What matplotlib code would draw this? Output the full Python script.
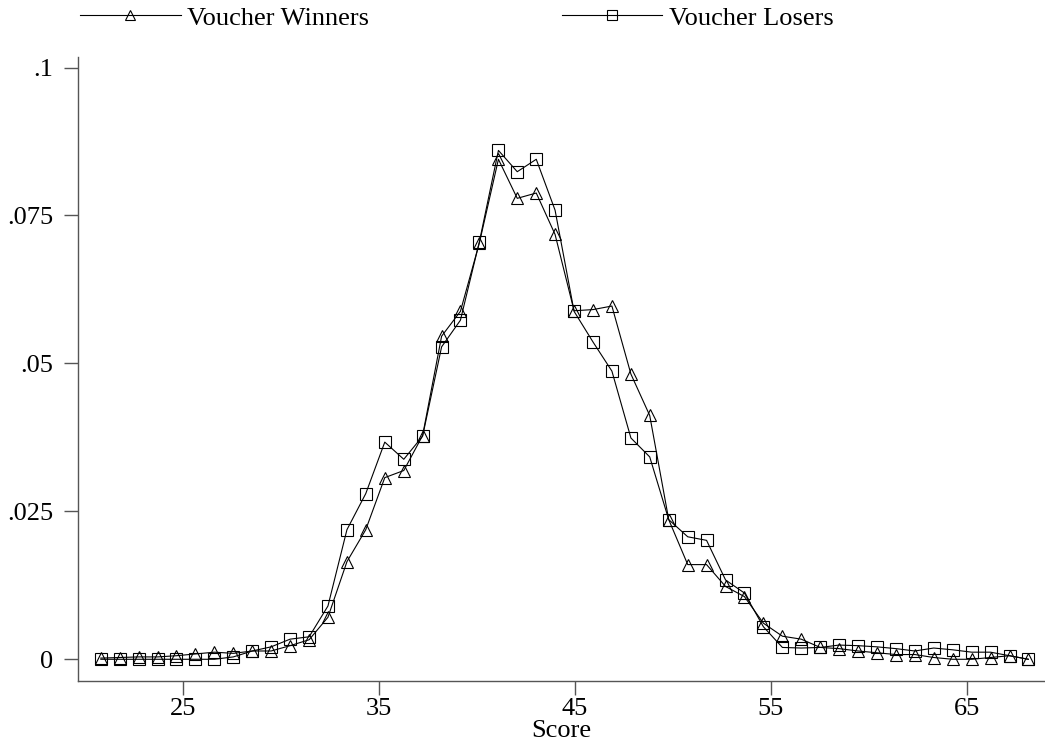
import matplotlib
matplotlib.use("Agg")
import matplotlib.pyplot as plt
from matplotlib.lines import Line2D

# score bins (x) and densities
score = [20.82, 21.79, 22.75, 23.72, 24.68, 25.65, 26.62, 27.58, 28.55, 29.51,
         30.48, 31.45, 32.41, 33.38, 34.34, 35.31, 36.28, 37.24, 38.21, 39.17,
         40.14, 41.11, 42.07, 43.04, 44.00, 44.97, 45.94, 46.90, 47.87, 48.83,
         49.80, 50.77, 51.73, 52.70, 53.66, 54.63, 55.60, 56.56, 57.53, 58.49,
         59.46, 60.43, 61.39, 62.36, 63.32, 64.29, 65.26, 66.22, 67.19, 68.15]

winners = [.0002, .0003, .0004, .0004, .0006, .0009, .0012, .0010, .0014, .0014,
           .0023, .0033, .0071, .0165, .0219, .0307, .0319, .0378, .0546, .0588,
           .0704, .0845, .0779, .0788, .0718, .0589, .0591, .0597, .0482, .0412,
           .0236, .0160, .0160, .0123, .0106, .0061, .0039, .0034, .0020, .0018,
           .0014, .0011, .0008, .0008, .0003, .0000, .0000, .0003, .0006, .0000]

losers = [.0000, .0000, .0000, .0000, .0000, .0000, .0000, .0004, .0014, .0021,
          .0034, .0038, .0090, .0219, .0280, .0367, .0338, .0377, .0528, .0573,
          .0706, .0860, .0824, .0845, .0759, .0588, .0536, .0487, .0374, .0342,
          .0236, .0207, .0201, .0134, .0112, .0055, .0020, .0019, .0020, .0024,
          .0023, .0021, .0018, .0014, .0019, .0016, .0012, .0012, .0006, .0000]

xticks = [25, 35, 45, 55, 65]
yticks = [0, .025, .05, .075, .1]
ylabels = ["0", ".025", ".05", ".075", ".1"]

plt.rcParams["font.family"] = ["Liberation Serif", "DejaVu Serif"]
fs = 19

fig = plt.figure(figsize=(10.45, 7.49), dpi=100)
ax = fig.add_axes([0.0749, 0.0908, 0.9251, 0.8332])

ax.plot(score, winners, color="black", lw=0.8, marker="^", ms=9,
        mfc="none", mec="black", mew=0.8)
ax.plot(score, losers, color="black", lw=0.8, marker="s", ms=9,
        mfc="none", mec="black", mew=0.8)

ax.set_xlim(19.67, 69.0)
ax.set_ylim(-0.00367, 0.1018)

ax.set_xticks(xticks)
ax.set_yticks(yticks)
ax.set_yticklabels(ylabels)
ax.tick_params(axis="x", length=10, width=1, color="#555555", labelsize=fs, pad=2)
ax.tick_params(axis="y", length=10, width=1, color="#555555", labelsize=fs, pad=8)

for s in ["top", "right"]:
    ax.spines[s].set_visible(False)
for s in ["left", "bottom"]:
    ax.spines[s].set_color("#555555")
    ax.spines[s].set_linewidth(1)

ax.set_xlabel("Score", fontsize=fs, labelpad=0)

# legend across the top
h1 = Line2D([], [], color="black", lw=0.8, marker="^", ms=6.5, mfc="none", mec="black", mew=0.8)
h2 = Line2D([], [], color="black", lw=0.8, marker="s", ms=6.5, mfc="none", mec="black", mew=0.8)
fig.legend([h1, h2], ["Voucher Winners", "Voucher Losers"], ncol=2,
           loc="upper left", bbox_to_anchor=(0.073, 0.997), frameon=False,
           fontsize=fs, handlelength=3.8, handletextpad=0.25,
           columnspacing=7.3, borderpad=0.15, borderaxespad=0)

fig.savefig("out.png", dpi=100)
